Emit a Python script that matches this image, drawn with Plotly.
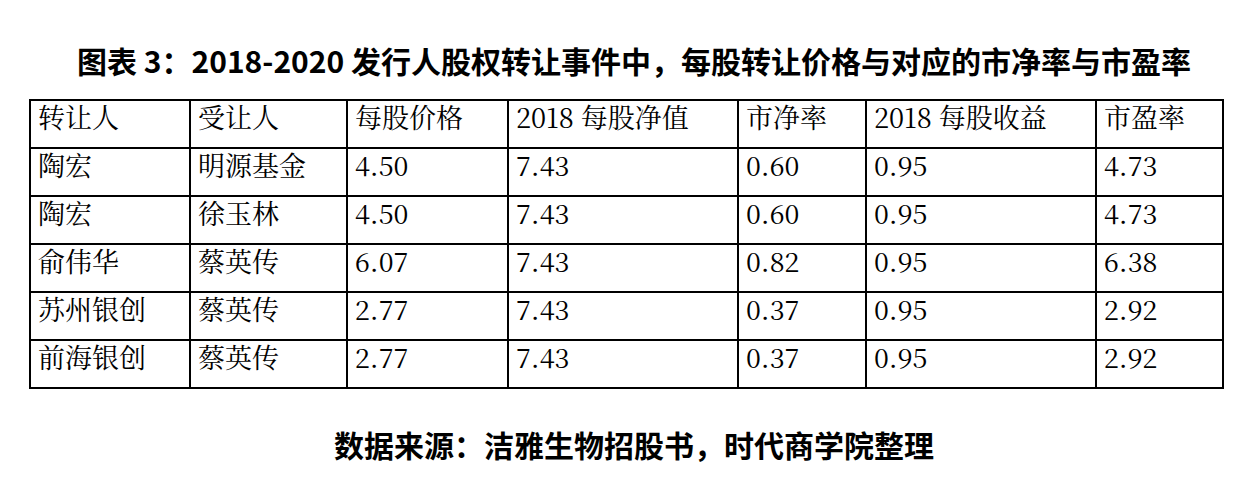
import plotly.graph_objects as go

title = "图表 3：2018-2020 发行人股权转让事件中，每股转让价格与对应的市净率与市盈率"
source = "数据来源：洁雅生物招股书，时代商学院整理"
headers = ["转让人", "受让人", "每股价格", "2018 每股净值", "市净率", "2018 每股收益", "市盈率"]
transferor = ["陶宏", "陶宏", "俞伟华", "苏州银创", "前海银创"]
transferee = ["明源基金", "徐玉林", "蔡英传", "蔡英传", "蔡英传"]
price = ["4.50", "4.50", "6.07", "2.77", "2.77"]
nav = ["7.43", "7.43", "7.43", "7.43", "7.43"]
pb = ["0.60", "0.60", "0.82", "0.37", "0.37"]
eps = ["0.95", "0.95", "0.95", "0.95", "0.95"]
pe = ["4.73", "4.73", "6.38", "2.92", "2.92"]
col_widths = [160, 157, 161, 230, 128, 230, 127]

font = dict(family="Noto Serif CJK SC, Noto Sans CJK SC, serif", size=27, color="black")
fig = go.Figure(go.Table(
    columnwidth=col_widths,
    domain=dict(x=[22/1251, 1215/1251], y=[0.19, 1-92/484]),
    header=dict(values=headers, height=48, align="left", font=font,
                line=dict(color="black", width=1.5), fill=dict(color="white")),
    cells=dict(values=[transferor, transferee, price, nav, pb, eps, pe], height=48,
               align="left", font=font, line=dict(color="black", width=1.5),
               fill=dict(color="white")),
))
fig.update_layout(
    width=1251, height=484, margin=dict(l=0, r=0, t=0, b=0),
    paper_bgcolor="white", plot_bgcolor="white",
    annotations=[
        dict(text="<b>"+title+"</b>", x=0.5, y=1-28/484, xref="paper", yref="paper",
             showarrow=False, font=dict(family="Noto Sans CJK SC", size=30, color="black")),
        dict(text="<b>"+source+"</b>", x=0.5, y=1-460/484, xref="paper", yref="paper",
             showarrow=False, font=dict(family="Noto Sans CJK SC", size=30, color="black")),
    ],
)
fig.write_html("out.html")
